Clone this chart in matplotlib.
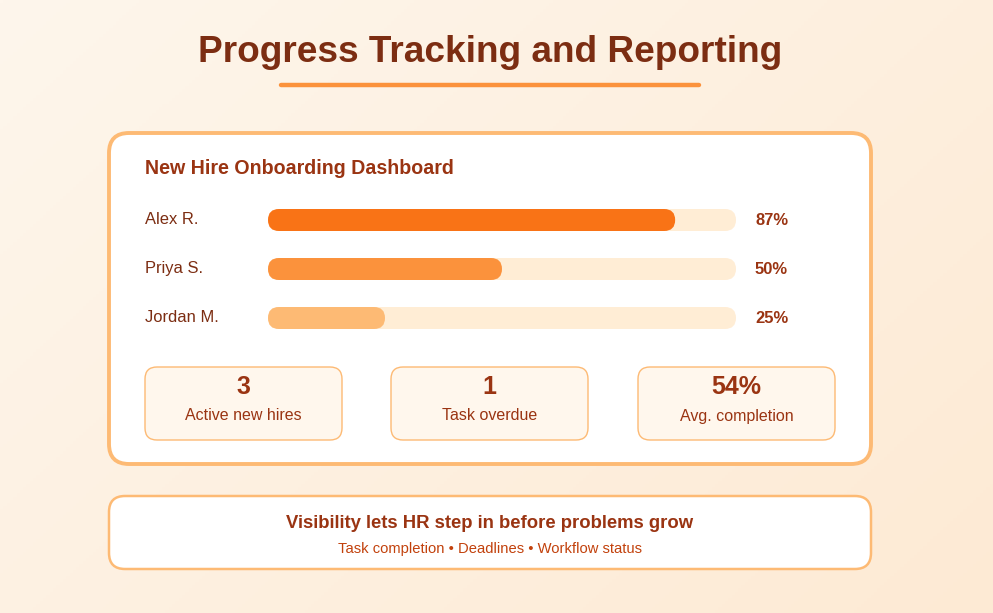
import numpy as np
import matplotlib
matplotlib.use("Agg")
import matplotlib.pyplot as plt
from matplotlib.patches import FancyBboxPatch

plt.rcParams['font.family'] = ['Liberation Sans', 'DejaVu Sans']

# ---- data ----
names = ["Alex R.", "Priya S.", "Jordan M."]
progress = [87, 50, 25]
bar_colors = ["#F97316", "#FB923C", "#FDBA74"]
stat_values = ["3", "1", "54%"]
stat_labels = ["Active new hires", "Task overdue", "Avg. completion"]
title = "Progress Tracking and Reporting"
card_title = "New Hire Onboarding Dashboard"
footer_title = "Visibility lets HR step in before problems grow"
footer_sub = "Task completion \u2022 Deadlines \u2022 Workflow status"

W, H = 993, 613
fig = plt.figure(figsize=(W / 100, H / 100), dpi=100)
ax = fig.add_axes([0, 0, 1, 1])
ax.set_xlim(0, W)
ax.set_ylim(H, 0)
ax.axis("off")

def px(p):
    return p * 72 / 100

# background gradient
c1 = np.array([0xFE, 0xF6, 0xEC]) / 255
c2 = np.array([0xFD, 0xEA, 0xD4]) / 255
yy, xx = np.mgrid[0:1:200j, 0:1:300j]
t = (xx * 0.6 + yy * 0.4)
img = c1[None, None, :] * (1 - t[..., None]) + c2[None, None, :] * t[..., None]
ax.imshow(img, extent=[0, W, H, 0], aspect="auto", zorder=0)

dark = "#7C2D12"
mid = "#9A3412"

# title
ax.text(490, 53, title, ha="center", va="center", fontsize=px(37), fontweight="bold", color=dark, zorder=5)
ax.plot([281, 699], [85, 85], color="#FB923C", lw=3.2, solid_capstyle="round", zorder=5)

def rbox(x0, y0, x1, y1, r, fc, ec, lw, z=2):
    p = FancyBboxPatch((x0, y0), x1 - x0, y1 - y0,
                       boxstyle=f"round,pad=0,rounding_size={r}",
                       fc=fc, ec=ec, lw=lw, zorder=z)
    ax.add_patch(p)

# main card
rbox(109, 133, 871, 464, 20, "white", "#FDBA74", 2.8)
ax.text(145, 169, card_title, ha="left", va="center", fontsize=px(19.7), fontweight="bold", color=mid, zorder=5)

track_x0, track_x1 = 268, 736
bar_h = 22
row_y = [220, 269, 318]
for i, (n, v, c) in enumerate(zip(names, progress, bar_colors)):
    y = row_y[i]
    ax.text(145, y - 1, n, ha="left", va="center", fontsize=px(16.5), color=dark, zorder=5)
    rbox(track_x0, y - bar_h / 2, track_x1, y + bar_h / 2, 11, "#FFEDD5", "none", 0, 3)
    w = (track_x1 - track_x0) * v / 100
    rbox(track_x0, y - bar_h / 2, track_x0 + w, y + bar_h / 2, 11, c, "none", 0, 4)
    ax.text(755, y + 0.5, f"{v}%", ha="left", va="center", fontsize=px(16.5), fontweight="bold", color=mid, zorder=5)

# stat boxes
box_x = [145, 391, 638]
bw = 197
for bx, v, l in zip(box_x, stat_values, stat_labels):
    rbox(bx, 367, bx + bw, 440, 12, "#FFF7ED", "#FDBA74", 1.0, 3)
    ax.text(bx + bw / 2, 387, v, ha="center", va="center", fontsize=px(25), fontweight="bold", color=mid, zorder=5)
    ax.text(bx + bw / 2, 416, l, ha="center", va="center", fontsize=px(16), color=mid, zorder=5)

# footer
rbox(109, 496, 871, 569, 16, "white", "#FDBA74", 1.8)
ax.text(490, 523, footer_title, ha="center", va="center", fontsize=px(18.5), fontweight="bold", color=mid, zorder=5)
ax.text(490, 549, footer_sub, ha="center", va="center", fontsize=px(14.7), color="#C2410C", zorder=5)

fig.savefig("out.png", dpi=100)
